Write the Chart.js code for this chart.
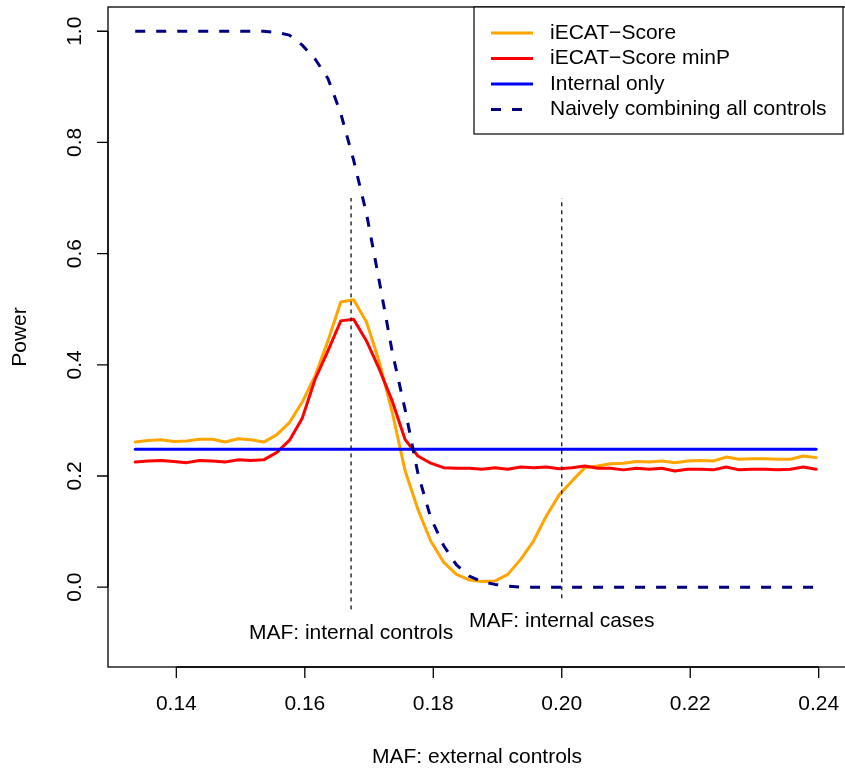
<!DOCTYPE html>
<html>
<head>
<meta charset="utf-8">
<script src="https://cdn.jsdelivr.net/npm/chart.js@4/dist/chart.umd.min.js"></script>
<style>
  html, body { margin: 0; padding: 0; background: #fff; overflow: hidden; }
  #wrap { width: 845px; height: 770px; overflow: hidden; }
</style>
</head>
<body>
<div id="wrap"><canvas id="powerChart" width="848" height="770"></canvas></div>
<script>
// MAF of external controls (x) and power of each method
const maf = [0.1336, 0.1356, 0.1376, 0.1396, 0.1416, 0.1436, 0.1456, 0.1476, 0.1496, 0.1516,
  0.1536, 0.1556, 0.1576, 0.1596, 0.1616, 0.1636, 0.1656, 0.1676, 0.1696, 0.1716,
  0.1736, 0.1756, 0.1776, 0.1796, 0.1816, 0.1836, 0.1856, 0.1876, 0.1896, 0.1916,
  0.1936, 0.1956, 0.1976, 0.1996, 0.2016, 0.2036, 0.2056, 0.2076, 0.2096, 0.2116,
  0.2136, 0.2156, 0.2176, 0.2196, 0.2216, 0.2236, 0.2256, 0.2276, 0.2296, 0.2316,
  0.2336, 0.2356, 0.2376, 0.2396]
const iecatScore = [0.261, 0.264, 0.265, 0.262, 0.263, 0.266, 0.266, 0.261, 0.267, 0.265,
  0.261, 0.274, 0.296, 0.333, 0.380, 0.443, 0.513, 0.517, 0.477, 0.405,
  0.315, 0.210, 0.140, 0.083, 0.045, 0.023, 0.013, 0.010, 0.011, 0.023,
  0.050, 0.083, 0.128, 0.166, 0.191, 0.215, 0.218, 0.222, 0.223, 0.226,
  0.225, 0.227, 0.224, 0.227, 0.228, 0.227, 0.234, 0.230, 0.231, 0.231,
  0.230, 0.230, 0.236, 0.233]
const iecatMinP = [0.225, 0.227, 0.228, 0.226, 0.224, 0.228, 0.227, 0.225, 0.229, 0.228,
  0.229, 0.242, 0.264, 0.304, 0.374, 0.425, 0.479, 0.482, 0.443, 0.392,
  0.335, 0.266, 0.236, 0.223, 0.215, 0.214, 0.214, 0.212, 0.215, 0.212,
  0.216, 0.215, 0.216, 0.213, 0.215, 0.218, 0.214, 0.214, 0.211, 0.214,
  0.212, 0.214, 0.209, 0.212, 0.212, 0.211, 0.216, 0.211, 0.212, 0.212,
  0.211, 0.212, 0.216, 0.212]
const internalOnly = [0.248, 0.248, 0.248, 0.248, 0.248, 0.248, 0.248, 0.248, 0.248, 0.248,
  0.248, 0.248, 0.248, 0.248, 0.248, 0.248, 0.248, 0.248, 0.248, 0.248,
  0.248, 0.248, 0.248, 0.248, 0.248, 0.248, 0.248, 0.248, 0.248, 0.248,
  0.248, 0.248, 0.248, 0.248, 0.248, 0.248, 0.248, 0.248, 0.248, 0.248,
  0.248, 0.248, 0.248, 0.248, 0.248, 0.248, 0.248, 0.248, 0.248, 0.248,
  0.248, 0.248, 0.248, 0.248]
const naiveAll = [1.000, 1.000, 1.000, 1.000, 1.000, 1.000, 1.000, 1.000, 1.000, 1.000,
  1.000, 0.998, 0.993, 0.975, 0.950, 0.915, 0.852, 0.768, 0.672, 0.550,
  0.424, 0.320, 0.205, 0.125, 0.075, 0.040, 0.020, 0.010, 0.005, 0.002,
  0, 0, 0, 0, 0, 0, 0, 0, 0, 0,
  0, 0, 0, 0, 0, 0, 0, 0, 0, 0,
  0, 0, 0, 0]

const seriesNames = ['iECAT\u2212Score', 'iECAT\u2212Score minP', 'Internal only', 'Naively combining all controls']
const seriesColors = ['#FFA500', '#FF0000', '#0000FF', '#000080']

// reference MAFs marked with vertical dashed lines
const refMaf = [0.1672, 0.2]
const refTop = [0.7, 0.7]
const refBottom = [-0.04, -0.02]
const refNotes = ['MAF: internal controls', 'MAF: internal cases']
const refNoteY = [-0.082, -0.061]

const xTicks = [0.14, 0.16, 0.18, 0.20, 0.22, 0.24]
const yTicks = [0.0, 0.2, 0.4, 0.6, 0.8, 1.0]

const FONT = '21px "Liberation Sans", Arial, Helvetica, sans-serif'

function pts(ys) {
  return maf.map((x, i) => ({x: x, y: ys[i]}))
}

function seriesLine(label, ys, color, dash) {
  return {
    label: label,
    data: pts(ys),
    borderColor: color,
    borderWidth: 3,
    borderDash: dash || [],
    borderCapStyle: dash ? 'butt' : 'round',
    borderJoinStyle: 'round',
    pointRadius: 0,
    tension: 0,
    fill: false
  }
}

let datasets = []
// reference lines on top
refMaf.forEach((m, i) => {
  datasets.push({
    label: refNotes[i],
    data: [{x: m, y: refBottom[i]}, {x: m, y: refTop[i]}],
    borderColor: '#000',
    borderWidth: 1.2,
    borderDash: [4, 4],
    pointRadius: 0,
    fill: false
  })
})
datasets.push(seriesLine(seriesNames[3], naiveAll, seriesColors[3], [10, 11]))
datasets.push(seriesLine(seriesNames[2], internalOnly, seriesColors[2]))
datasets.push(seriesLine(seriesNames[1], iecatMinP, seriesColors[1]))
datasets.push(seriesLine(seriesNames[0], iecatScore, seriesColors[0]))

// R style box, axes, notes and legend
const rDecor = {
  id: 'rDecor',
  afterDraw(chart) {
    const ctx = chart.ctx
    const area = chart.chartArea
    const xs = chart.scales.x
    const ys = chart.scales.y
    ctx.save()
    ctx.fillStyle = '#000'
    ctx.strokeStyle = '#000'
    ctx.lineWidth = 1.3
    ctx.strokeRect(area.left, area.top, area.right - area.left, area.bottom - area.top)
    ctx.font = FONT

    // x axis
    ctx.beginPath()
    ctx.moveTo(xs.getPixelForValue(xTicks[0]), area.bottom)
    ctx.lineTo(xs.getPixelForValue(xTicks[xTicks.length - 1]), area.bottom)
    xTicks.forEach(t => {
      let px = xs.getPixelForValue(t)
      ctx.moveTo(px, area.bottom)
      ctx.lineTo(px, area.bottom + 11)
    })
    ctx.stroke()
    ctx.textAlign = 'center'
    ctx.textBaseline = 'middle'
    xTicks.forEach(t => {
      ctx.fillText(t.toFixed(2), xs.getPixelForValue(t), area.bottom + 37)
    })
    ctx.fillText('MAF: external controls', (area.left + area.right) / 2, area.bottom + 90)

    // y axis
    ctx.beginPath()
    ctx.moveTo(area.left, ys.getPixelForValue(yTicks[0]))
    ctx.lineTo(area.left, ys.getPixelForValue(yTicks[yTicks.length - 1]))
    yTicks.forEach(t => {
      let py = ys.getPixelForValue(t)
      ctx.moveTo(area.left, py)
      ctx.lineTo(area.left - 11, py)
    })
    ctx.stroke()
    yTicks.forEach(t => {
      ctx.save()
      ctx.translate(area.left - 33, ys.getPixelForValue(t))
      ctx.rotate(-Math.PI / 2)
      ctx.fillText(t.toFixed(1), 0, 0)
      ctx.restore()
    })
    ctx.save()
    ctx.translate(area.left - 88, (area.top + area.bottom) / 2)
    ctx.rotate(-Math.PI / 2)
    ctx.fillText('Power', 0, 0)
    ctx.restore()

    // notes under the reference lines
    refMaf.forEach((m, i) => {
      ctx.fillText(refNotes[i], xs.getPixelForValue(m), ys.getPixelForValue(refNoteY[i]))
    })

    // legend, top right
    const lx = 474, ly = area.top, lw = 843 - 474, lh = 127
    ctx.fillStyle = '#fff'
    ctx.fillRect(lx, ly, lw, lh)
    ctx.lineWidth = 1.2
    ctx.strokeStyle = '#000'
    ctx.strokeRect(lx, ly, lw, lh)
    ctx.textAlign = 'left'
    seriesNames.forEach((name, i) => {
      let cy = ly + 26 + i * 25.5
      ctx.strokeStyle = seriesColors[i]
      ctx.lineWidth = 3
      ctx.setLineDash(i === 3 ? [10, 11] : [])
      ctx.beginPath()
      ctx.moveTo(491, cy)
      ctx.lineTo(533, cy)
      ctx.stroke()
      ctx.setLineDash([])
      ctx.fillStyle = '#000'
      ctx.fillText(name, 550, cy)
    })
    ctx.restore()
  }
}

let powerChart = new Chart(document.getElementById('powerChart'), {
  type: 'line',
  data: {datasets: datasets},
  options: {
    responsive: false,
    animation: false,
    events: [],
    layout: {padding: {left: 108, top: 7, right: 2, bottom: 103}},
    scales: {
      x: {type: 'linear', display: false, min: 0.12936, max: 0.24425},
      y: {type: 'linear', display: false, min: -0.1436, max: 1.0436}
    },
    plugins: {
      legend: {display: false},
      tooltip: {enabled: false}
    }
  },
  plugins: [rDecor]
})
</script>
</body>
</html>
